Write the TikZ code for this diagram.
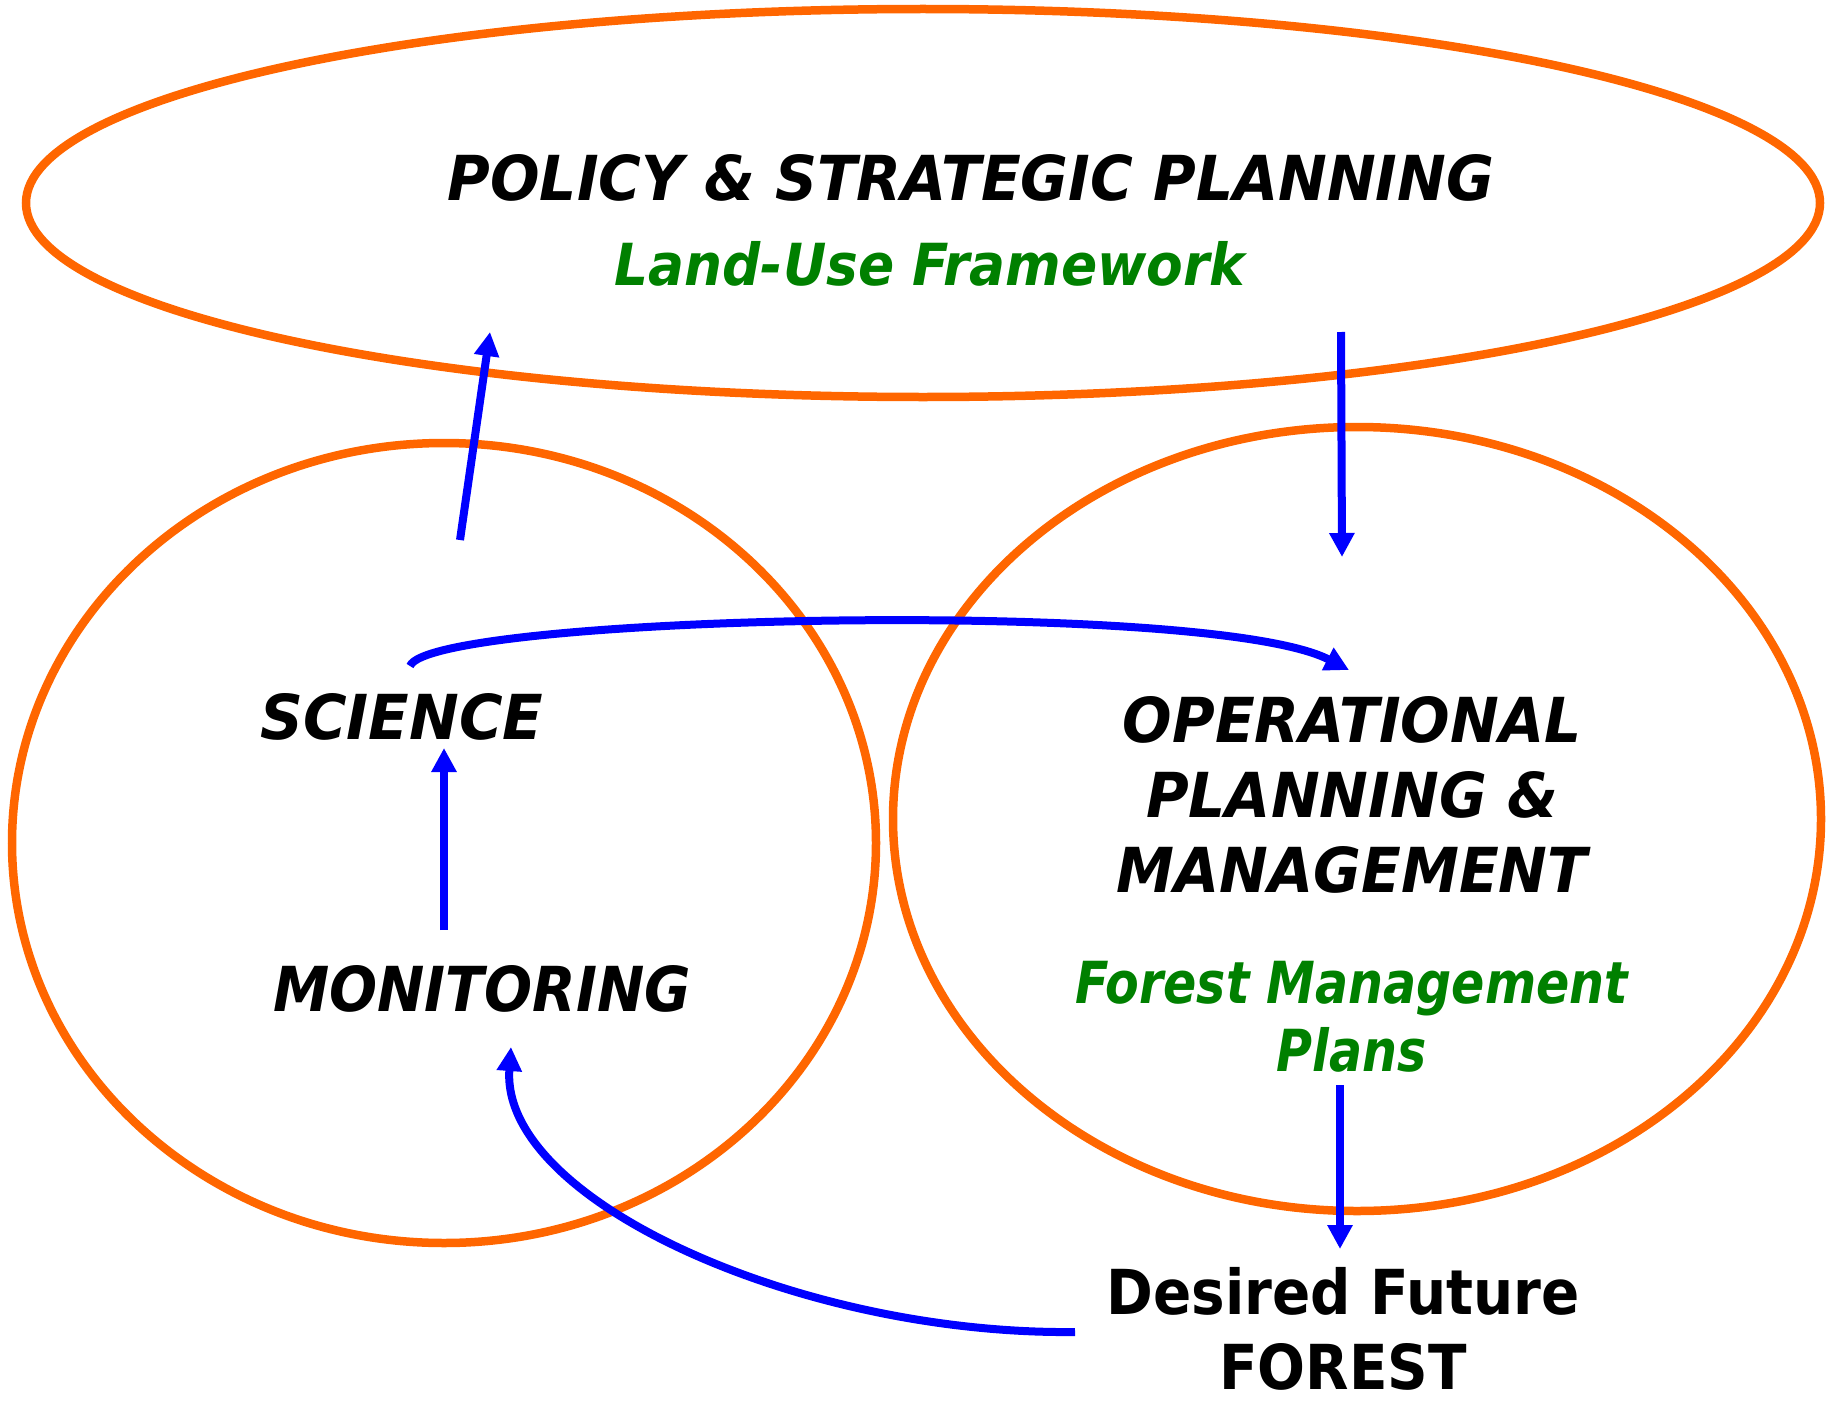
\documentclass[tikz,border=0pt]{standalone}
\usepackage{fontspec}
\setmainfont{DejaVu Sans}
\usetikzlibrary{arrows.meta}
\definecolor{ringorange}{RGB}{255,102,0}
\definecolor{flowblue}{RGB}{0,0,255}
\definecolor{plangreen}{RGB}{0,128,0}
\tikzstyle{ring}=[draw=ringorange, line width=8.5pt]
\tikzstyle{flow}=[draw=flowblue, line width=8pt,
                  -{Triangle[length=24pt,width=24pt]}]
\tikzstyle{head}=[font=\fontsize{62}{75}\selectfont\bfseries\itshape,
                  align=center, inner sep=0pt, xscale=.94]
\tikzstyle{plan}=[font=\fontsize{58}{68}\selectfont\bfseries\itshape,
                  text=plangreen, align=center, inner sep=0pt, xscale=.92]
\tikzstyle{goal}=[font=\fontsize{62}{75}\selectfont\bfseries,
                  align=center, inner sep=0pt, xscale=.91]

\begin{document}
\begin{tikzpicture}[x=1pt, y=-1pt]
    \useasboundingbox (0,0) rectangle (1839,1402);
    \draw[ring] (923,203) ellipse [x radius=897, y radius=194];
    \draw[ring] (444,843) ellipse [x radius=432, y radius=400];
    \draw[ring] (1357,819) ellipse [x radius=464, y radius=392];
    \node[head] (policy) at (971,178) {POLICY \& STRATEGIC PLANNING};
    \node[plan] (luf) at (930,264) {Land-Use Framework};
    \node[head, xscale=1.02] (science) at (402,717) {SCIENCE};
    \node[head, xscale=.97] (monitoring) at (482,989) {MONITORING};
    \node[head] (operational) at (1352,795)
      {OPERATIONAL\\PLANNING \&\\MANAGEMENT};
    \node[plan, xscale=.92] (fmp) at (1352,1017) {Forest Management\\Plans};
    \node[goal] (forest) at (1343,1329) {Desired Future\\FOREST};
    \coordinate (sfoot) at (460,540);
    \coordinate (stip) at (490,332);
    \coordinate (pfoot) at (1341,332);
    \coordinate (ptip) at (1342,557);
    \coordinate (mfoot) at (444,930);
    \coordinate (mtip) at (444,748);
    \coordinate (cfoot) at (410,666);
    \coordinate (ctip) at (1349,670);
    \coordinate (ffoot) at (1340,1085);
    \coordinate (ftip) at (1340,1249);
    \coordinate (rfoot) at (1075,1332);
    \coordinate (rtip) at (511,1047);
    \foreach \from/\to in {sfoot/stip, pfoot/ptip, mfoot/mtip, ffoot/ftip}
      \draw[flow] (\from) -- (\to);
    \draw[flow] (cfoot) .. controls (430,615) and (1210,598) .. (ctip);
    \draw[flow] (rfoot) .. controls (800,1335) and (500,1200) .. (rtip);
\end{tikzpicture}
\end{document}
